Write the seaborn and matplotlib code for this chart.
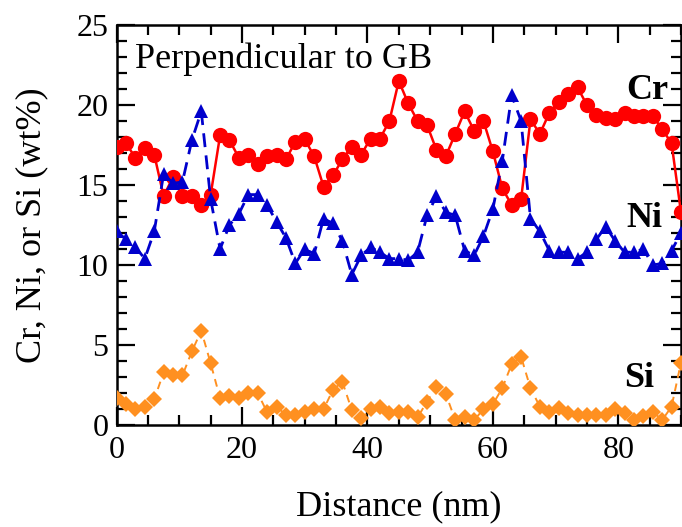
import numpy as np
import pandas as pd
import matplotlib
matplotlib.use("Agg")
import matplotlib.pyplot as plt
from matplotlib.ticker import MultipleLocator
import seaborn as sns

# distance along the line scan (nm), one point every 1.5 nm
distance = [round(i * 1.5, 1) for i in range(61)]

cr = [17.4, 17.6, 16.7, 17.3, 16.9, 14.3, 15.5, 14.3, 14.3, 13.75,
      14.4, 18.1, 17.8, 16.7, 16.9, 16.3, 16.8, 16.9, 16.6, 17.7,
      17.85, 16.8, 14.9, 15.6, 16.6, 17.4, 16.9, 17.9, 17.9, 19.0,
      21.5, 20.1, 19.0, 18.75, 17.2, 16.8, 18.2, 19.6, 18.4, 19.0,
      17.1, 14.8, 13.75, 14.1, 19.1, 18.2, 19.5, 20.2, 20.7, 21.1,
      20.0, 19.4, 19.2, 19.1, 19.5, 19.3, 19.3, 19.3, 18.5, 17.6,
      13.3]

ni = [12.1, 11.6, 11.1, 10.4, 12.1, 15.7, 15.1, 15.2, 17.8, 19.6,
      14.1, 11.0, 12.5, 13.2, 14.4, 14.4, 13.75, 12.7, 11.7, 10.1,
      11.0, 10.7, 12.9, 12.6, 11.5, 9.4, 10.6, 11.1, 10.8, 10.4,
      10.4, 10.3, 10.8, 13.1, 14.3, 13.3, 13.1, 10.9, 10.6, 11.8,
      13.5, 16.5, 20.6, 19.0, 12.9, 12.1, 10.9, 10.8, 10.8, 10.4,
      10.8, 11.6, 12.4, 11.5, 10.8, 10.8, 11.0, 10.0, 10.1, 10.9,
      12.0]

si = [1.67, 1.3, 0.98, 1.15, 1.6, 3.3, 3.1, 3.1, 4.6, 5.9,
      3.85, 1.67, 1.8, 1.67, 2.0, 2.0, 0.8, 1.15, 0.63, 0.63,
      0.83, 0.98, 0.98, 2.2, 2.7, 0.94, 0.42, 0.98, 1.15, 0.77,
      0.83, 0.83, 0.48, 1.46, 2.4, 1.94, 0.31, 0.52, 0.31, 0.98,
      1.3, 2.3, 3.8, 4.27, 2.3, 1.15, 0.83, 1.04, 0.73, 0.63,
      0.63, 0.63, 0.63, 0.98, 0.73, 0.31, 0.56, 0.83, 0.31, 1.15,
      3.9]

df = pd.DataFrame({"distance": distance, "Cr": cr, "Ni": ni, "Si": si})

sns.set_style("ticks")
plt.rcParams["font.family"] = ["Liberation Serif", "DejaVu Serif"]
plt.rcParams["text.color"] = "black"
plt.rcParams["axes.labelcolor"] = "black"
plt.rcParams["axes.edgecolor"] = "black"
plt.rcParams["xtick.color"] = "black"
plt.rcParams["ytick.color"] = "black"

fig = plt.figure(figsize=(6.82, 5.27), dpi=100)
ax = fig.add_axes([0.171, 0.1935, 0.8275, 0.7591])

sns.lineplot(data=df, x="distance", y="Cr", ax=ax, color="#ff0000",
             marker="o", markersize=11, markeredgewidth=0, linewidth=1.8,
             zorder=3)
sns.lineplot(data=df, x="distance", y="Ni", ax=ax, color="#0000cc",
             marker="^", markersize=10.5, markeredgewidth=0, linewidth=2.0,
             linestyle=(0, (5, 3)), zorder=4)
sns.lineplot(data=df, x="distance", y="Si", ax=ax, color="#ff9020",
             marker="D", markersize=8.5, markeredgewidth=0, linewidth=1.4,
             linestyle=(0, (4, 3)), zorder=3)

ax.set_xlim(0, 90)
ax.set_ylim(0, 25)
ax.xaxis.set_major_locator(MultipleLocator(20))
ax.xaxis.set_minor_locator(MultipleLocator(5))
ax.yaxis.set_major_locator(MultipleLocator(5))
ax.yaxis.set_minor_locator(MultipleLocator(1))
ax.tick_params(which="both", direction="in", top=True, right=True,
               width=1.6, labelsize=23)
ax.tick_params(which="major", length=13)
ax.tick_params(which="minor", length=7)
ax.tick_params(axis="x", pad=8)
ax.tick_params(axis="y", pad=6)
for sp in ax.spines.values():
    sp.set_linewidth(1.8)
    sp.set_visible(True)

ax.set_xlabel("Distance (nm)", fontsize=26, labelpad=18)
ax.set_ylabel("Cr, Ni, or Si (wt%)", fontsize=26, labelpad=20)

ax.text(2.9, 22.3, "Perpendicular to GB", fontsize=26, va="baseline", ha="left")
ax.text(84.6, 20.9, "Cr", fontsize=26, fontweight="bold", ha="center", va="center")
ax.text(84.2, 12.9, "Ni", fontsize=26, fontweight="bold", ha="center", va="center")
ax.text(83.4, 2.9, "Si", fontsize=26, fontweight="bold", ha="center", va="center")

fig.savefig("out.png", dpi=100)
